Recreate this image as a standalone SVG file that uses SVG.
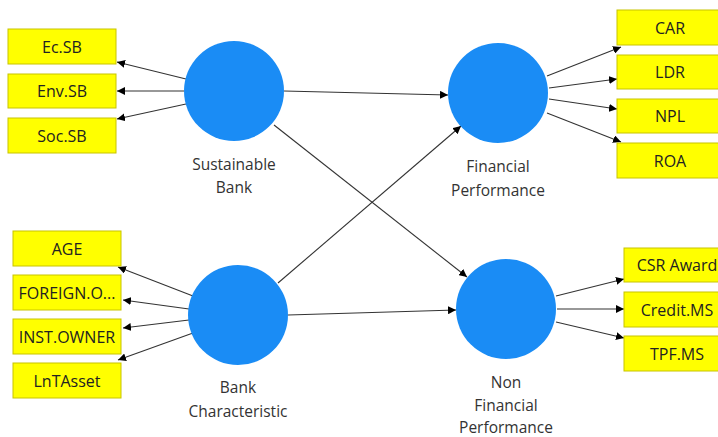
<svg xmlns="http://www.w3.org/2000/svg" width="718" height="437" viewBox="0 0 718 437">
<style>
.box{fill:#ffff00;stroke:#c8c400;stroke-width:1}
.bt{font-family:"Open Sans","Noto Sans",sans-serif;font-size:16px;fill:#222;text-anchor:middle;dominant-baseline:central}
.lv{fill:#1a8cf5}
.lt{font-family:"Open Sans","Noto Sans",sans-serif;font-size:15.5px;fill:#333;text-anchor:middle;dominant-baseline:central}
.c{stroke:#333;stroke-width:1.1;fill:none;marker-end:url(#ah)}
</style>
<defs>
<marker id="ah" viewBox="0 0 10 10" refX="10" refY="5" markerWidth="8" markerHeight="8" markerUnits="userSpaceOnUse" orient="auto">
<path d="M0,0 L10,5 L0,10 z" fill="#000"/>
</marker>
</defs>
<rect width="718" height="437" fill="#fff"/>
<g id="connectors">
<line class="c" x1="186" y1="79" x2="117" y2="62"/>
<line class="c" x1="184" y1="91" x2="117" y2="91"/>
<line class="c" x1="186" y1="104" x2="117" y2="119"/>
<line class="c" x1="284" y1="91" x2="448" y2="95"/>
<line class="c" x1="274" y1="125" x2="467" y2="277"/>
<line class="c" x1="278" y1="283" x2="461" y2="126"/>
<line class="c" x1="288" y1="315" x2="456" y2="310"/>
<line class="c" x1="193" y1="296" x2="118" y2="267"/>
<line class="c" x1="189" y1="309" x2="123" y2="300"/>
<line class="c" x1="189" y1="320" x2="123" y2="328"/>
<line class="c" x1="193" y1="333" x2="118" y2="360"/>
<line class="c" x1="547" y1="76" x2="621" y2="47"/>
<line class="c" x1="549" y1="88" x2="617" y2="79"/>
<line class="c" x1="549" y1="99" x2="617" y2="109"/>
<line class="c" x1="547" y1="113" x2="621" y2="142"/>
<line class="c" x1="556" y1="296" x2="624" y2="279"/>
<line class="c" x1="557" y1="309" x2="624" y2="309"/>
<line class="c" x1="556" y1="322" x2="624" y2="338"/>
</g>
<g id="sustainable-bank"><circle class="lv" cx="234" cy="91" r="50"/><text class="lt" x="234" y="164">Sustainable</text><text class="lt" x="234" y="187">Bank</text></g>
<g id="financial-performance"><circle class="lv" cx="498" cy="93" r="50"/><text class="lt" x="498" y="166">Financial</text><text class="lt" x="498" y="190">Performance</text></g>
<g id="bank-characteristic"><circle class="lv" cx="238" cy="315" r="50"/><text class="lt" x="238" y="387">Bank</text><text class="lt" x="238" y="411">Characteristic</text></g>
<g id="non-financial-performance"><circle class="lv" cx="506" cy="309" r="50"/><text class="lt" x="506" y="382">Non</text><text class="lt" x="506" y="405">Financial</text><text class="lt" x="506" y="427">Performance</text></g>
<g id="ec-sb"><rect class="box" x="8" y="29" width="108" height="35"/><text class="bt" x="62" y="47">Ec.SB</text></g>
<g id="env-sb"><rect class="box" x="8" y="74" width="108" height="34"/><text class="bt" x="62" y="91">Env.SB</text></g>
<g id="soc-sb"><rect class="box" x="8" y="118" width="108" height="35"/><text class="bt" x="62" y="136">Soc.SB</text></g>
<g id="age"><rect class="box" x="13" y="231" width="108" height="35"/><text class="bt" x="67" y="249">AGE</text></g>
<g id="foreign"><rect class="box" x="13" y="275" width="108" height="35"/><text class="bt" x="67" y="293">FOREIGN.O...</text></g>
<g id="inst-owner"><rect class="box" x="13" y="319" width="108" height="35"/><text class="bt" x="67" y="337">INST.OWNER</text></g>
<g id="lntasset"><rect class="box" x="13" y="363" width="108" height="35"/><text class="bt" x="67" y="381">LnTAsset</text></g>
<g id="car"><rect class="box" x="617" y="10" width="108" height="35"/><text class="bt" x="670" y="28">CAR</text></g>
<g id="ldr"><rect class="box" x="617" y="55" width="108" height="34"/><text class="bt" x="670" y="72">LDR</text></g>
<g id="npl"><rect class="box" x="617" y="99" width="108" height="34"/><text class="bt" x="670" y="116">NPL</text></g>
<g id="roa"><rect class="box" x="617" y="143" width="108" height="35"/><text class="bt" x="670" y="161">ROA</text></g>
<g id="csr"><rect class="box" x="624" y="248" width="108" height="34"/><text class="bt" x="677" y="265">CSR Award</text></g>
<g id="credit-ms"><rect class="box" x="624" y="292" width="108" height="35"/><text class="bt" x="677" y="310">Credit.MS</text></g>
<g id="tpf-ms"><rect class="box" x="624" y="336" width="108" height="35"/><text class="bt" x="677" y="354">TPF.MS</text></g>
</svg>
